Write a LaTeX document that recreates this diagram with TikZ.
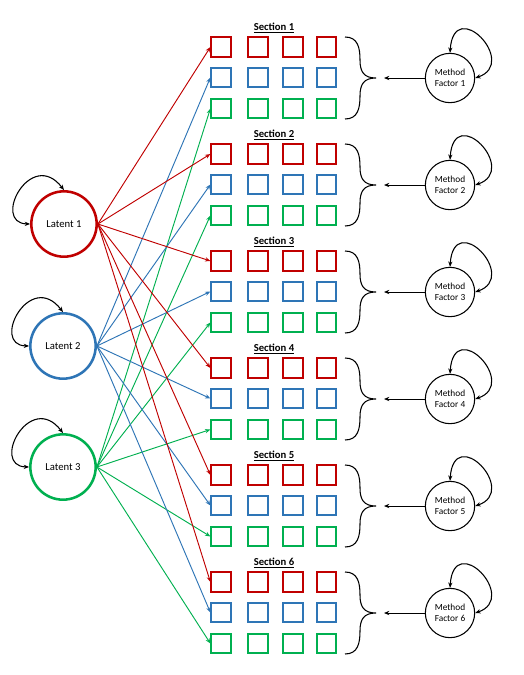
\documentclass[tikz,border=0pt]{standalone}
\usepackage{fontspec}
\setmainfont{Carlito}
\usetikzlibrary{arrows.meta}
\definecolor{cred}{RGB}{192,0,0}
\definecolor{cblue}{RGB}{46,117,182}
\definecolor{cgreen}{RGB}{0,176,80}
\tikzset{
  box/.style={draw,line width=1.5pt,minimum size=14.4pt,inner sep=0pt},
  latent/.style={circle,draw,line width=1.9pt,minimum size=49pt,inner sep=0pt,fill=white,font=\fontsize{8}{9}\selectfont},
  method/.style={circle,draw,line width=0.8pt,minimum size=37pt,inner sep=0pt,align=center,font=\fontsize{7}{8}\selectfont},
  arr/.style={-{Stealth[length=4pt,width=3.2pt]},line width=0.7pt},
  varloop/.style={{Stealth[length=4pt,width=3.2pt]}-{Stealth[length=4pt,width=3.2pt]},line width=0.8pt},
  bracepath/.style={line width=0.8pt},
  sectitle/.style={font=\bfseries\fontsize{8}{9}\selectfont,inner sep=1pt}
}
\begin{document}
\begin{tikzpicture}[x=0.75pt,y=-0.75pt]
\fill[white] (0,0) rectangle (524,675);
\useasboundingbox (0,0) rectangle (524,675);

% latent factors
\node[latent,draw=cred] (L1) at (64,224) {Latent 1};
\node[latent,draw=cblue] (L2) at (63,346) {Latent 2};
\node[latent,draw=cgreen] (L3) at (63,467) {Latent 3};
\foreach \l in {L1,L2,L3}{
  \draw[varloop] (\l.west) .. controls +(-39,-1) and +(-33,-43) .. (\l.north);
}

\foreach \s in {1,...,6}{
  \pgfmathsetmacro\oy{107*(\s-1)}
  \node[sectitle] (t\s) at (274,28+\oy) {\underline{Section \s}};
  \foreach \c/\x in {1/221,2/258,3/293,4/326.5}{
    \node[box,draw=cred]   (s\s-r-\c) at (\x,47+\oy) {};
    \node[box,draw=cblue]  (s\s-b-\c) at (\x,77.5+\oy) {};
    \node[box,draw=cgreen] (s\s-g-\c) at (\x,108.5+\oy) {};
  }
  % brace
  \draw[bracepath] (345,37+\oy) .. controls (358,37+\oy) and (360,48+\oy) .. (360,60+\oy)
     .. controls (360,72+\oy) and (364,78+\oy) .. (376,78+\oy)
     .. controls (364,78+\oy) and (360,84+\oy) .. (360,96+\oy)
     .. controls (360,108+\oy) and (358,119+\oy) .. (345,119+\oy);
  \coordinate (tip\s) at (384,78+\oy);
  % method factor
  \node[method] (M\s) at (450,78+\oy) {Method\\Factor \s};
  \draw[arr] (M\s.west) -- (tip\s);
  \draw[varloop] (M\s.north) .. controls +(4,-58) and +(44,-15) .. (M\s.east);
  % loadings
  \draw[arr,cred]   (L1.east) -- (s\s-r-1.west);
  \draw[arr,cblue]  (L2.east) -- (s\s-b-1.west);
  \draw[arr,cgreen] (L3.east) -- (s\s-g-1.west);
}
\end{tikzpicture}
\end{document}
